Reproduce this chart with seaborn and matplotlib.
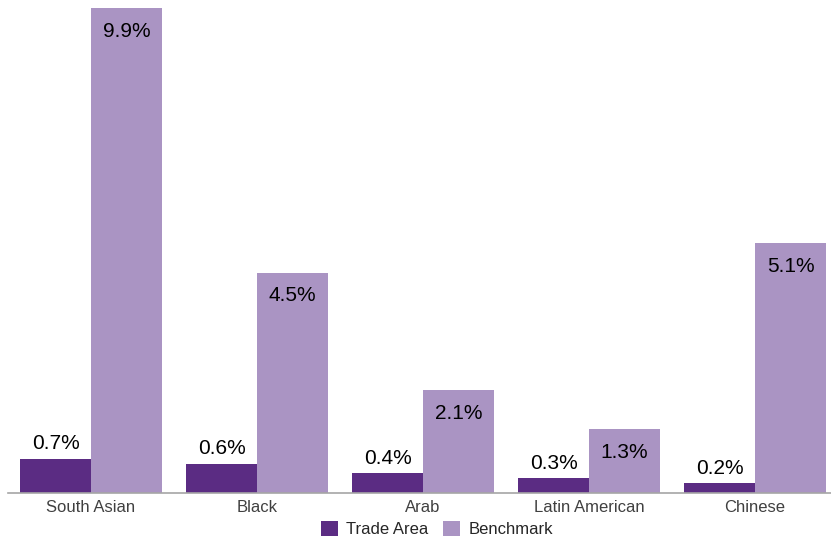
import matplotlib
matplotlib.use("Agg")
import matplotlib.pyplot as plt
import seaborn as sns
import pandas as pd

categories = ["South Asian", "Black", "Arab", "Latin American", "Chinese"]
trade_area = [0.7, 0.6, 0.4, 0.3, 0.2]
benchmark = [9.9, 4.5, 2.1, 1.3, 5.1]
series_names = ["Trade Area", "Benchmark"]
palette = ["#5B2C83", "#AA94C3"]

df = pd.DataFrame({
    "Group": categories * 2,
    "Share": trade_area + benchmark,
    "Series": [series_names[0]] * len(categories) + [series_names[1]] * len(categories),
})

sns.set_theme(style="white")
plt.rcParams["font.family"] = ["Liberation Sans", "DejaVu Sans"]

fig = plt.figure(figsize=(8.31, 5.41), dpi=100)
ax = fig.add_axes([8 / 831, 48 / 541, 830 / 831, 485 / 541])

sns.barplot(data=df, x="Group", y="Share", hue="Series", palette=palette,
            width=0.855, saturation=1, linewidth=0, ax=ax, legend=True)

ax.set_ylim(0, 9.9)
ax.set_xlim(-0.5, 4.5)
ax.set_xlabel("")
ax.set_ylabel("")
ax.set_yticks([])
for side in ["left", "right", "top"]:
    ax.spines[side].set_visible(False)
ax.spines["bottom"].set_color("#A6A6A6")
ax.spines["bottom"].set_linewidth(1.2)
ax.tick_params(axis="x", length=0, pad=5, labelsize=12, labelcolor="#404040")

# value labels: above the short bars, inside the top of the tall ones
for container, name in zip(ax.containers, series_names):
    for bar in container:
        h = bar.get_height()
        cx = bar.get_x() + bar.get_width() / 2
        if name == "Trade Area":
            ax.annotate(f"{h:.1f}%", (cx, h), xytext=(0, 4), textcoords="offset points",
                        ha="center", va="bottom", fontsize=15, color="#000000")
        else:
            ax.annotate(f"{h:.1f}%", (cx, h), xytext=(0, -10), textcoords="offset points",
                        ha="center", va="top", fontsize=15, color="#000000")

handles, labels = ax.get_legend_handles_labels()
ax.get_legend().remove()
fig.legend(handles, labels, loc="center", bbox_to_anchor=(437 / 831, 1 - 529 / 541),
           ncol=2, frameon=False, fontsize=12, handlelength=1.0, handleheight=1.0,
           handletextpad=0.5, columnspacing=0.9, borderaxespad=0)

fig.savefig("out.png", dpi=100)
